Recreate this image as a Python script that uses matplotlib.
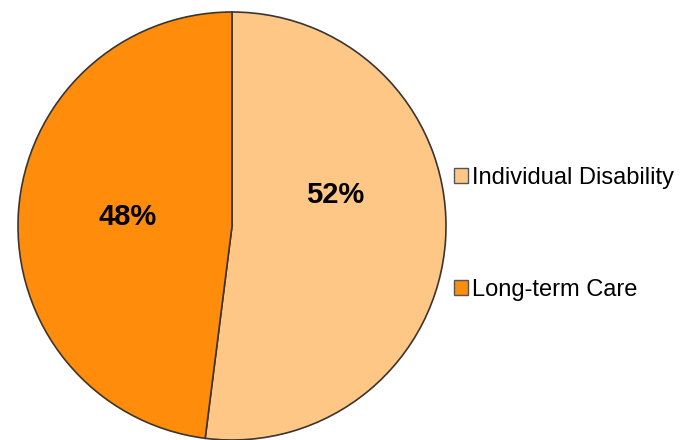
import matplotlib
matplotlib.use("Agg")
import matplotlib.pyplot as plt
from matplotlib.patches import Patch

categories = ["Individual Disability", "Long-term Care"]
values = [52, 48]
colors = ["#FFC786", "#FF8C0A"]

plt.rcParams['font.family'] = ['Liberation Sans', 'DejaVu Sans']

fig = plt.figure(figsize=(6.81, 4.40), dpi=100)
ax = fig.add_axes([18/681, 0/440, 428/681, 428/440])
wedges, texts, autotexts = ax.pie(
    values, colors=colors, startangle=90, counterclock=False,
    autopct='%d%%', pctdistance=0.5,
    wedgeprops=dict(edgecolor='#3a3530', linewidth=1.2),
    textprops=dict(fontsize=21, fontweight='bold', color='black'))
label_pos = [(0.48, 0.145), (-0.487, 0.04)]
for t, p in zip(autotexts, label_pos):
    t.set_position(p)
ax.set_xlim(-1, 1)
ax.set_ylim(-1, 1)
ax.set_aspect('equal')
ax.axis('off')

handles = [Patch(facecolor=c, edgecolor='#555555', linewidth=1.0) for c in colors]
fig.legend(handles, categories, loc='center left',
           bbox_to_anchor=(454/681, 206/440), frameon=False,
           fontsize=17, handlelength=0.6, handleheight=0.6,
           handletextpad=0.15, labelspacing=3.82, borderpad=0, borderaxespad=0)

fig.savefig("out.png", dpi=100)
